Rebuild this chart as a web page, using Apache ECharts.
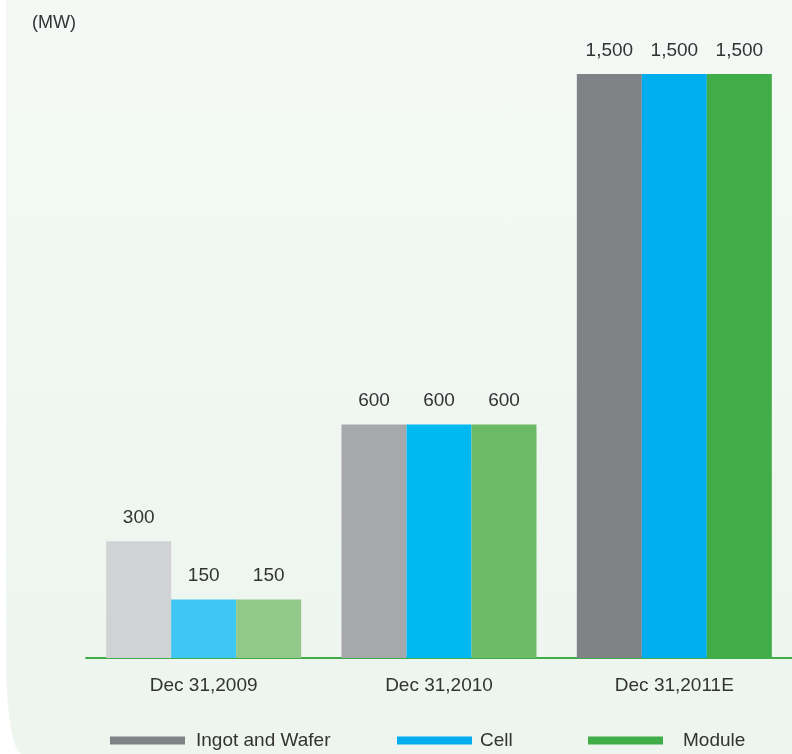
<!DOCTYPE html>
<html>
<head>
<meta charset="utf-8">
<script src="https://cdn.jsdelivr.net/npm/echarts@6/dist/echarts.min.js"></script>
<style>
html,body{margin:0;padding:0;background:#fff}
#wrap{position:relative;width:792px;height:754px;overflow:hidden}
#panel{position:absolute;left:6px;top:0;width:800px;height:754px;background:linear-gradient(#f4f9f6,#edf5ee);border-bottom-left-radius:16px 94px}
#c{position:absolute;left:0;top:0;width:792px;height:754px}
</style>
</head>
<body>
<div id="wrap"><div id="panel"></div><div id="c"></div></div>
<script>
const categories = ['Dec 31,2009', 'Dec 31,2010', 'Dec 31,2011E'];
const seriesNames = ['Ingot and Wafer', 'Cell', 'Module'];
const ingotWafer = [300, 600, 1500];
const cell = [150, 600, 1500];
const module_ = [150, 600, 1500];
const unitLabel = '(MW)';

const palettes = [
  ['#d1d2d4', '#a7a8ac', '#808285'],
  ['#40c6f2', '#00b9f0', '#00aeef'],
  ['#92c88a', '#6cba63', '#41ad49']
];
const legendColors = ['#808285', '#00aeef', '#41ad49'];
const values = [ingotWafer, cell, module_];

const chart = echarts.init(document.getElementById('c'), null, {renderer: 'canvas'});
const font = 'Liberation Sans, Arial, sans-serif';

const series = seriesNames.map((name, i) => ({
  name: name,
  type: 'bar',
  barWidth: 65,
  barGap: '0%',
  color: legendColors[i],
  data: values[i].map((v, j) => ({value: v, itemStyle: {color: palettes[i][j]}})),
  label: {
    show: true,
    position: 'top',
    distance: 14,
    color: '#333',
    fontSize: 19,
    fontFamily: font,
    formatter: p => p.value.toLocaleString('en-US')
  }
}));

const legendPos = [
  {left: 110, textLeft: 196},
  {left: 397, textLeft: 480},
  {left: 588, textLeft: 683}
];

chart.setOption({
  animation: false,
  backgroundColor: 'transparent',
  title: {
    text: unitLabel,
    left: 27,
    top: 9,
    textStyle: {fontSize: 18, fontWeight: 'normal', color: '#333', fontFamily: font}
  },
  legend: seriesNames.map((n, i) => ({
    data: [n],
    left: legendPos[i].left,
    top: 731,
    padding: 0,
    itemWidth: 75,
    itemHeight: 8,
    icon: 'rect',
    selectedMode: false,
    textStyle: {
      fontSize: 19, color: '#333', fontFamily: font,
      padding: [0, 0, 0, legendPos[i].textLeft - legendPos[i].left - 80]
    }
  })),
  grid: {left: 86, width: 708, top: 74, bottom: 96, containLabel: false},
  xAxis: {
    type: 'category',
    data: categories,
    axisLine: {lineStyle: {color: '#41ad49', width: 2}},
    axisTick: {show: false},
    axisLabel: {fontSize: 19, color: '#333', fontFamily: font, margin: 18}
  },
  yAxis: {
    type: 'value',
    min: 0,
    max: 1500,
    show: false,
    splitLine: {show: false}
  },
  series: series
});
</script>
</body>
</html>
